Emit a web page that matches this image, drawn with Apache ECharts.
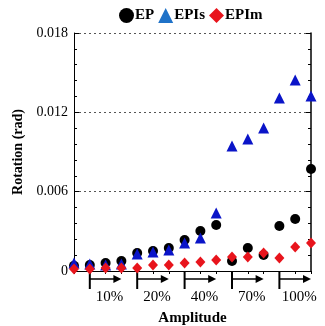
<!DOCTYPE html>
<html>
<head>
<meta charset="utf-8">
<script src="https://cdn.jsdelivr.net/npm/echarts@6/dist/echarts.min.js"></script>
<style>
  html, body { margin: 0; padding: 0; background: #fff; }
  #chart { width: 325px; height: 326px; }
</style>
</head>
<body>
<div id="chart"></div>
<script>
// test index 1..16 along amplitude steps
var positions = [1, 2, 3, 4, 5, 6, 7, 8, 9, 10, 11, 12, 13, 14, 15, 16];
var epValues = [0.0004, 0.00045, 0.0006, 0.00076, 0.00136, 0.00151, 0.00174, 0.00234,
                0.00303, 0.00348, 0.00076, 0.00174, 0.00121, 0.0034, 0.00393, 0.00771];
var episValues = [0.0006, 0.00053, 0.00045, 0.00053, 0.00129, 0.00144, 0.00159, 0.00212,
                  0.0025, 0.00439, 0.00945, 0.00998, 0.01081, 0.01308, 0.01444, 0.01323];
var epimValues = [0.00015, 0.00015, 0.00023, 0.00023, 0.00023, 0.00045, 0.00045, 0.0006,
                  0.00068, 0.00083, 0.00106, 0.00106, 0.00136, 0.00098, 0.00182, 0.00212];
var groupLabels = ['10%', '20%', '40%', '70%', '100%'];
var groupStarts = [2, 5, 8, 11, 14];

var serif = '"Liberation Serif", "DejaVu Serif", serif';

function pairs(vals) {
    return positions.map(function (p, i) { return [p, vals[i]]; });
}

var chart = echarts.init(document.getElementById('chart'));

var option = {
    animation: false,
    legend: {
        top: 3,
        left: 114,
        itemGap: 4,
        itemWidth: 15,
        itemHeight: 15,
        textStyle: { fontFamily: serif, fontWeight: 'bold', fontSize: 15, color: '#000', padding: [0, 0, 0, -4] },
        data: [
            { name: 'EP', icon: 'circle', itemStyle: { color: '#000' } },
            { name: 'EPIs', icon: 'triangle', itemStyle: { color: '#1f72c8' } },
            { name: 'EPIm', icon: 'diamond', itemStyle: { color: '#e8141c' } }
        ]
    },
    grid: { left: 74, right: 14, top: 33, bottom: 55, outerBoundsMode: 'none' },
    xAxis: [
        {
            type: 'value', min: 1, max: 16, interval: 1, position: 'bottom',
            name: 'Amplitude', nameLocation: 'middle', nameGap: 40,
            nameTextStyle: { fontFamily: serif, fontWeight: 'bold', fontSize: 15, color: '#000' },
            axisLine: { lineStyle: { color: '#000', width: 1 } },
            axisTick: { show: false },
            axisLabel: { show: false },
            splitLine: { show: false }
        },
        {
            type: 'value', min: 1, max: 16, interval: 1, position: 'top',
            axisLine: { lineStyle: { color: '#000', width: 1 } },
            axisTick: { inside: true, length: 3, lineStyle: { color: '#000' } },
            axisLabel: { show: false },
            splitLine: { show: false }
        }
    ],
    yAxis: [
        {
            type: 'value', min: 0, max: 0.018, interval: 0.006,
            name: 'Rotation (rad)', nameLocation: 'middle', nameGap: 47, nameRotate: 90,
            nameTextStyle: { fontFamily: serif, fontWeight: 'bold', fontSize: 14, color: '#000' },
            axisLine: { show: true, lineStyle: { color: '#000', width: 1 } },
            axisTick: { inside: true, length: 5, lineStyle: { color: '#000' } },
            minorTick: { show: true, splitNumber: 5, length: 3, lineStyle: { color: '#000' } },
            axisLabel: {
                fontFamily: serif, fontSize: 14, color: '#000', margin: 6,
                formatter: function (v) { return v === 0 ? '0' : v.toFixed(3); }
            },
            splitLine: { show: true, lineStyle: { type: [2, 3], color: '#555', width: 1 } }
        },
        {
            type: 'value', min: 0, max: 0.018, interval: 0.006, position: 'right',
            axisLine: { show: true, lineStyle: { color: '#000', width: 1.5 } },
            axisTick: { inside: true, length: 5, lineStyle: { color: '#000' } },
            minorTick: { show: true, splitNumber: 5, length: 3, lineStyle: { color: '#000' } },
            axisLabel: { show: false },
            splitLine: { show: false }
        }
    ],
    series: [
        {
            name: 'EP', type: 'scatter', symbol: 'circle', symbolSize: 10,
            itemStyle: { color: '#000', opacity: 1 },
            data: pairs(epValues)
        },
        {
            name: 'EPIs', type: 'scatter', symbol: 'triangle', symbolSize: 11,
            itemStyle: { color: '#0a14c8', opacity: 1 },
            data: pairs(episValues)
        },
        {
            name: 'EPIm', type: 'scatter', symbol: 'diamond', symbolSize: [10, 11],
            itemStyle: { color: '#e8141c', opacity: 1 },
            data: pairs(epimValues)
        }
    ]
};

chart.setOption(option);

// amplitude group arrows under the axis
var elements = [];
var y0 = chart.convertToPixel({ yAxisIndex: 0 }, 0);
groupStarts.forEach(function (s, i) {
    var x0 = chart.convertToPixel({ xAxisIndex: 0 }, s);
    var x1 = chart.convertToPixel({ xAxisIndex: 0 }, s + 2);
    elements.push({ type: 'line', shape: { x1: x0, y1: y0 + 1, x2: x0, y2: y0 + 18 },
        style: { stroke: '#000', lineWidth: 2 } });
    elements.push({ type: 'line', shape: { x1: x0, y1: y0 + 8, x2: x1 - 6, y2: y0 + 8 },
        style: { stroke: '#000', lineWidth: 1.5 } });
    elements.push({ type: 'polygon', shape: { points: [[x1 - 8, y0 + 4], [x1, y0 + 8], [x1 - 8, y0 + 12]] },
        style: { fill: '#000' } });
    elements.push({ type: 'text', style: {
        text: groupLabels[i], x: (x0 + x1) / 2 + 4, y: y0 + 26,
        align: 'center', verticalAlign: 'middle',
        font: '15px ' + serif, fill: '#000' } });
});
chart.setOption({ graphic: elements });
</script>
</body>
</html>
